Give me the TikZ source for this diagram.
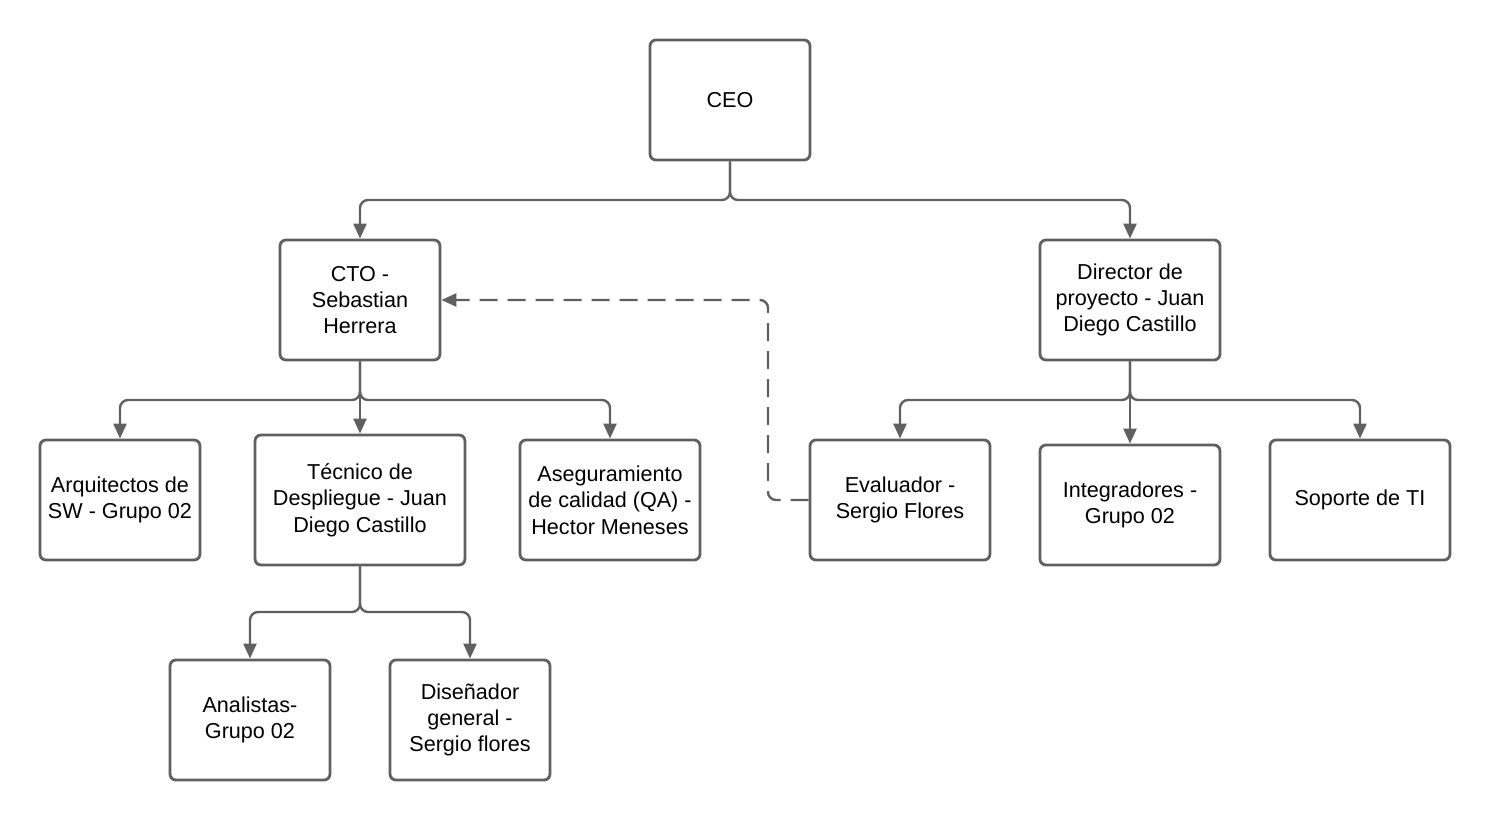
\documentclass[tikz,border=0pt]{standalone}
\usepackage{fontspec}
\setmainfont{Liberation Sans}
\usetikzlibrary{arrows.meta}
\definecolor{ln}{HTML}{606060}
\tikzset{
  box/.style={draw=ln, line width=1.4pt, rounded corners=3pt, fill=white, align=center,
    font=\fontsize{10.8}{13.2}\selectfont, inner sep=0pt},
  conn/.style={draw=ln, line width=1.2pt, rounded corners=4pt,
    -{Triangle[length=7.5pt,width=6.5pt]}},
  dashconn/.style={conn, dash pattern=on 9pt off 5pt}
}
\begin{document}
\begin{tikzpicture}[x=0.5pt,y=-0.5pt]
\useasboundingbox (0,0) rectangle (1490,820);
\node[box, minimum width=80pt, minimum height=60pt] (ceo) at (730,100) {CEO};
\node[box, minimum width=80pt, minimum height=60pt] (cto) at (360,300) {CTO -\\Sebastian\\Herrera};
\node[box, minimum width=90pt, minimum height=60pt] (dir) at (1130,300) {Director de\\proyecto - Juan\\Diego Castillo};
\node[box, minimum width=80pt, minimum height=60pt] (arq) at (120,500) {Arquitectos de\\SW - Grupo 02};
\node[box, minimum width=105pt, minimum height=65pt] (tec) at (360,500) {Técnico de\\Despliegue - Juan\\Diego Castillo};
\node[box, minimum width=90pt, minimum height=60pt] (qa) at (610,500) {Aseguramiento\\de calidad (QA) -\\Hector Meneses};
\node[box, minimum width=90pt, minimum height=60pt] (eva) at (900,500) {Evaluador -\\Sergio Flores};
\node[box, minimum width=90pt, minimum height=60pt] (int) at (1130,505) {Integradores -\\Grupo 02};
\node[box, minimum width=90pt, minimum height=60pt] (sop) at (1360,500) {Soporte de TI};
\node[box, minimum width=80pt, minimum height=60pt] (ana) at (250,720) {Analistas-\\Grupo 02};
\node[box, minimum width=80pt, minimum height=60pt] (dis) at (470,720) {Diseñador\\general -\\Sergio flores};
\coordinate (j1) at (730,200);
\coordinate (j2) at (360,400);
\coordinate (j3) at (1130,400);
\coordinate (j4) at (360,612);
\coordinate (d1) at (768,500);
\draw[conn] (ceo.south) -- (j1) -| (cto.north);
\draw[conn] (ceo.south) -- (j1) -| (dir.north);
\draw[conn] (cto.south) -- (j2) -| (arq.north);
\draw[conn] (cto.south) -- (tec.north);
\draw[conn] (cto.south) -- (j2) -| (qa.north);
\draw[conn] (dir.south) -- (j3) -| (eva.north);
\draw[conn] (dir.south) -- (int.north);
\draw[conn] (dir.south) -- (j3) -| (sop.north);
\draw[conn] (tec.south) -- (j4) -| (ana.north);
\draw[conn] (tec.south) -- (j4) -| (dis.north);
\draw[dashconn] (eva.west) -- (d1) |- (cto.east);
\end{tikzpicture}
\end{document}
